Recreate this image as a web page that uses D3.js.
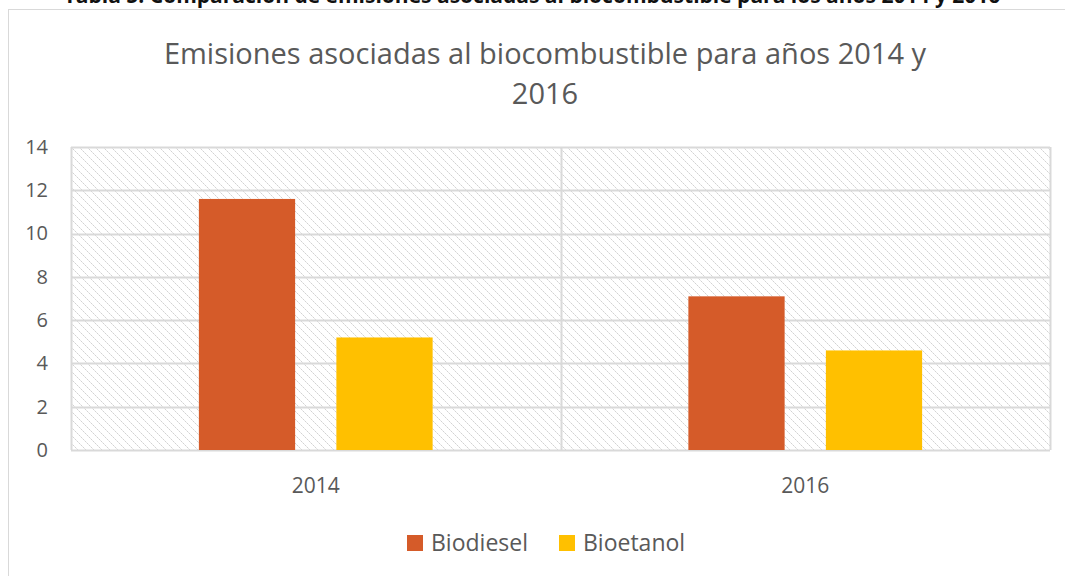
<!DOCTYPE html>
<html>
<head>
<meta charset="utf-8">
<script src="https://cdn.jsdelivr.net/npm/d3@7"></script>
<style>
  body { margin: 0; background: #fff; }
  svg { display: block; font-family: "Open Sans", sans-serif; }
</style>
</head>
<body>
<script>
// ---------- data ----------
const years = ['2014', '2016']
const seriesNames = ['Biodiesel', 'Bioetanol']
const biodiesel = [11.6, 7.1]
const bioetanol = [5.2, 4.6]
const yTicks = [0, 2, 4, 6, 8, 10, 12, 14]
const colors = ['#D55B29', '#FFC000']

const W = 1065, H = 576
const margin = { top: 147, right: 15, bottom: 126, left: 71 }
const width = W - margin.left - margin.right
const height = H - margin.top - margin.bottom

const svg = d3.select('body').append('svg')
  .attr('width', W)
  .attr('height', H)

// hatch pattern for the plot background
const defs = svg.append('defs')
const pat = defs.append('pattern')
  .attr('id', 'hatch')
  .attr('patternUnits', 'userSpaceOnUse')
  .attr('width', 8).attr('height', 8)
pat.append('rect').attr('width', 8).attr('height', 8).attr('fill', '#fff')
d3.range(0, 8, 2).forEach(i => {
  pat.append('rect').attr('x', i).attr('y', i).attr('width', 1).attr('height', 1).attr('fill', '#d2d2d2')
  pat.append('rect').attr('x', i + 1).attr('y', i + 1).attr('width', 1).attr('height', 1).attr('fill', '#e6e6e6')
})

// caption above the chart (cut off by the page edge in the source)
svg.append('text')
  .attr('x', 532).attr('y', 3)
  .attr('text-anchor', 'middle')
  .attr('font-weight', 'bold')
  .attr('font-size', 21)
  .attr('fill', '#111')
  .text('Tabla 5. Comparación de emisiones asociadas al biocombustible para los años 2014 y 2016')

// outer chart frame
svg.append('rect')
  .attr('x', 8.5).attr('y', 9.5)
  .attr('width', W + 20).attr('height', H + 20)
  .attr('fill', 'none')
  .attr('stroke', '#d9d9d9')

// title
const title = svg.append('text')
  .attr('text-anchor', 'middle')
  .attr('fill', '#595959')
  .attr('font-size', 29)
title.append('tspan').attr('x', 545).attr('y', 64)
  .text('Emisiones asociadas al biocombustible para años 2014 y')
title.append('tspan').attr('x', 545).attr('y', 104).text('2016')

const g = svg.append('g')
  .attr('transform', 'translate(' + margin.left + ',' + margin.top + ')')

const y = d3.scaleLinear().domain([0, 14]).range([height, 0])
const x0 = d3.scaleBand().domain(years).range([0, width]).paddingInner(0)
const x1 = d3.scaleBand().domain(seriesNames)
  .range([0, x0.bandwidth()])
  .paddingInner(0.3).paddingOuter(0.93)

g.append('rect')
  .attr('width', width).attr('height', height)
  .attr('fill', 'url(#hatch)')

// horizontal gridlines
g.selectAll('.grid')
  .data(yTicks)
  .enter().append('line')
  .attr('x1', 0).attr('x2', width)
  .attr('y1', d => Math.round(y(d)) + 0.5)
  .attr('y2', d => Math.round(y(d)) + 0.5)
  .attr('stroke', '#d9d9d9')
  .attr('stroke-width', 2)

// vertical lines between categories
g.selectAll('.vgrid')
  .data([0, 1, 2])
  .enter().append('line')
  .attr('x1', d => Math.round(d * x0.bandwidth()) + 0.5)
  .attr('x2', d => Math.round(d * x0.bandwidth()) + 0.5)
  .attr('y1', 0).attr('y2', height)
  .attr('stroke', '#d9d9d9')
  .attr('stroke-width', 2)

// bars
const rows = years.map((yr, i) => ({ year: yr, values: [biodiesel[i], bioetanol[i]] }))
const groups = g.selectAll('.grp')
  .data(rows)
  .enter().append('g')
  .attr('transform', d => 'translate(' + x0(d.year) + ',0)')

groups.selectAll('rect')
  .data(d => d.values.map((v, i) => ({ key: seriesNames[i], value: v, i: i })))
  .enter().append('rect')
  .attr('x', d => x1(d.key))
  .attr('y', d => y(d.value))
  .attr('width', x1.bandwidth())
  .attr('height', d => height - y(d.value))
  .attr('fill', d => colors[d.i])

// y axis
const yAxis = g.append('g')
  .call(d3.axisLeft(y).tickValues(yTicks).tickSize(0).tickPadding(23))
yAxis.select('.domain').remove()
yAxis.selectAll('text')
  .attr('font-size', 20)
  .attr('fill', '#595959')
  .attr('font-family', '"Open Sans", sans-serif')

// x axis
const xAxis = g.append('g')
  .attr('transform', 'translate(0,' + height + ')')
  .call(d3.axisBottom(x0).tickSize(0).tickPadding(28))
xAxis.select('.domain').remove()
xAxis.selectAll('text')
  .attr('font-size', 21)
  .attr('fill', '#595959')
  .attr('font-family', '"Open Sans", sans-serif')

// legend
const legend = svg.append('g').attr('transform', 'translate(407,535)')
const legendX = [0, 152]
seriesNames.forEach((name, i) => {
  legend.append('rect')
    .attr('x', legendX[i]).attr('y', 0)
    .attr('width', 16).attr('height', 16)
    .attr('fill', colors[i])
  legend.append('text')
    .attr('x', legendX[i] + 24).attr('y', 16)
    .attr('font-size', 23)
    .attr('fill', '#595959')
    .text(name)
})
</script>
</body>
</html>
